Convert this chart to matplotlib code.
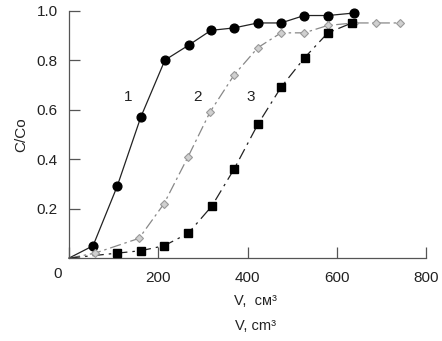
import numpy as np
import matplotlib
matplotlib.use('Agg')
import matplotlib.pyplot as plt

plt.rcParams['font.family'] = ['Liberation Sans', 'DejaVu Sans']

# curve 1 - circles
v1 = [0, 54, 108, 161, 215, 268, 318, 370, 423, 475, 527, 580, 638]
c1 = [0, 0.05, 0.29, 0.57, 0.80, 0.86, 0.92, 0.93, 0.95, 0.95, 0.98, 0.98, 0.99]
# curve 2 - diamonds
v2 = [0, 58, 157, 213, 267, 316, 370, 423, 475, 527, 580, 638, 688, 741]
c2 = [0, 0.02, 0.08, 0.22, 0.41, 0.59, 0.74, 0.85, 0.91, 0.91, 0.94, 0.95, 0.95, 0.95]
# curve 3 - squares
v3 = [0, 107, 161, 213, 267, 320, 370, 423, 475, 528, 580, 634]
c3 = [0, 0.02, 0.03, 0.05, 0.10, 0.21, 0.36, 0.54, 0.69, 0.81, 0.91, 0.95]

curve_labels = ['1', '2', '3']
label_x = [132, 287, 408]
label_y = [0.65, 0.65, 0.65]

xticks = [0, 200, 400, 600, 800]
yticks = [0.2, 0.4, 0.6, 0.8, 1.0]

fig = plt.figure(figsize=(4.42, 3.41), dpi=100)
ax = fig.add_axes([0.156, 0.243, 0.808, 0.726])

axcol = '#555555'
ax.plot(v1, c1, '-', color='#222222', lw=0.9, clip_on=False)
ax.plot(v1[1:], c1[1:], 'o', color='black', ms=6.3, clip_on=False, zorder=3)

ax.plot(v2, c2, color='#888888', lw=0.9, dashes=(9, 3, 2, 3), clip_on=False)
ax.plot(v2[1:], c2[1:], 'D', mfc='#d0d0d0', mec='#999999', ms=4.5, mew=0.8,
        clip_on=False, zorder=3)

ax.plot(v3, c3, color='#222222', lw=0.9, dashes=(9, 4, 2, 4), clip_on=False)
ax.plot(v3[1:], c3[1:], 's', color='black', ms=6.3, clip_on=False, zorder=3)

for t, x, y in zip(curve_labels, label_x, label_y):
    ax.text(x, y, t, fontsize=11, ha='center', va='center', color='#222222')

ax.set_xlim(0, 800)
ax.set_ylim(0, 1.0)
ax.set_xticks(xticks)
ax.set_xticklabels([''] + [str(x) for x in xticks[1:]])
ax.set_yticks(yticks)
ax.set_yticklabels(['%.1f' % y for y in yticks])
ax.tick_params(direction='in', length=8, width=0.9, color=axcol,
               labelsize=11, labelcolor='#222222')
ax.tick_params(axis='x', pad=9)
ax.tick_params(axis='y', pad=8)
for s in ['top', 'right']:
    ax.spines[s].set_visible(False)
for s in ['left', 'bottom']:
    ax.spines[s].set_color(axcol)
    ax.spines[s].set_linewidth(0.9)

ax.text(-25, -0.065, '0', fontsize=11, ha='center', va='center', color='#222222')
ax.set_ylabel('C/Co', fontsize=11, color='#222222', labelpad=6)
fig.text(0.579, 0.118, 'V,  см³', fontsize=10.5, ha='center', va='center', color='#222222')
fig.text(0.579, 0.045, 'V, cm³', fontsize=10.5, ha='center', va='center', color='#222222')

fig.savefig('out.png', dpi=100)
